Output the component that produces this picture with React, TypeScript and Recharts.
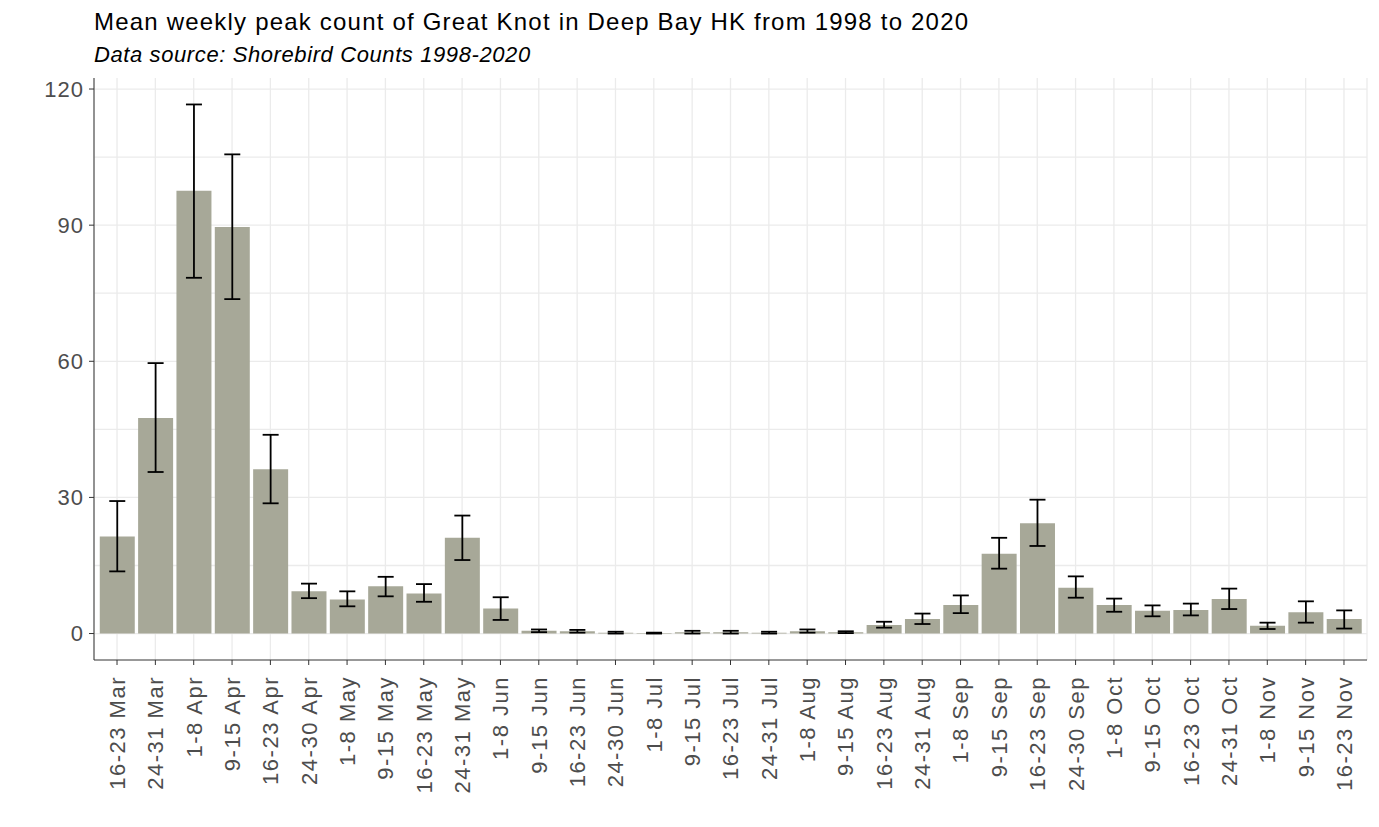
import {
  ComposedChart,
  Bar,
  ErrorBar,
  XAxis,
  YAxis,
  CartesianGrid,
} from "recharts"

const weeks = [
  "16-23 Mar", "24-31 Mar", "1-8 Apr", "9-15 Apr", "16-23 Apr", "24-30 Apr",
  "1-8 May", "9-15 May", "16-23 May", "24-31 May", "1-8 Jun", "9-15 Jun",
  "16-23 Jun", "24-30 Jun", "1-8 Jul", "9-15 Jul", "16-23 Jul", "24-31 Jul",
  "1-8 Aug", "9-15 Aug", "16-23 Aug", "24-31 Aug", "1-8 Sep", "9-15 Sep",
  "16-23 Sep", "24-30 Sep", "1-8 Oct", "9-15 Oct", "16-23 Oct", "24-31 Oct",
  "1-8 Nov", "9-15 Nov", "16-23 Nov",
]

const meanCount = [
  21.4, 47.5, 97.6, 89.6, 36.2, 9.3, 7.5, 10.4, 8.8, 21.1, 5.5, 0.6,
  0.5, 0.2, 0.1, 0.3, 0.3, 0.2, 0.5, 0.3, 1.9, 3.2, 6.3, 17.6,
  24.3, 10.1, 6.3, 5.0, 5.2, 7.6, 1.7, 4.7, 3.2,
]

const lowerCount = [
  13.7, 35.6, 78.4, 73.7, 28.7, 7.8, 6.0, 8.2, 7.0, 16.2, 3.0, 0.3,
  0.2, 0.0, 0.0, 0.0, 0.0, 0.0, 0.2, 0.1, 1.3, 2.1, 4.5, 14.3,
  19.3, 7.9, 4.8, 3.8, 4.0, 5.4, 1.0, 2.4, 1.1,
]

const upperCount = [
  29.2, 59.6, 116.6, 105.6, 43.8, 11.0, 9.3, 12.5, 10.9, 26.0, 8.0, 0.9,
  0.8, 0.4, 0.2, 0.6, 0.6, 0.4, 0.9, 0.5, 2.6, 4.4, 8.4, 21.1,
  29.5, 12.6, 7.7, 6.2, 6.6, 9.9, 2.4, 7.1, 5.1,
]

const yTicks = [0, 30, 60, 90, 120]
const gridValues = [0, 15, 30, 45, 60, 75, 90, 105, 120]

const data = weeks.map((week, i) => ({
  week,
  mean: meanCount[i],
  err: [meanCount[i] - lowerCount[i], upperCount[i] - meanCount[i]],
}))

// ggplot-style 5% expansion of the y range
const yMax = Math.max(...upperCount)
const yPad = yMax * 0.05

const FONT = "'Liberation Sans', Arial, sans-serif"

function WeekTick({ x, y, payload }: any) {
  return (
    <g transform={`translate(${x},${y + 9}) rotate(-90)`}>
      <text
        textAnchor="end"
        dy="0.36em"
        fontSize={22}
        letterSpacing={1.5}
        fill="#4d4d4d"
        fontFamily={FONT}
      >
        {payload.value}
      </text>
    </g>
  )
}

export default function App() {
  return (
    <div style={{ position: "absolute", left: 0, top: 0, width: 1379, height: 827, background: "#fff" }}>
      <div
        style={{
          position: "absolute",
          left: 94,
          top: 10,
          fontFamily: FONT,
          fontSize: 24,
          lineHeight: "24px",
          letterSpacing: 1.2,
          color: "#000",
          whiteSpace: "nowrap",
        }}
      >
        Mean weekly peak count of Great Knot in Deep Bay HK from 1998 to 2020
      </div>
      <div
        style={{
          position: "absolute",
          left: 94,
          top: 44,
          fontFamily: FONT,
          fontSize: 22,
          lineHeight: "22px",
          letterSpacing: 0.6,
          fontStyle: "italic",
          color: "#000",
          whiteSpace: "nowrap",
        }}
      >
        Data source: Shorebird Counts 1998-2020
      </div>
      <ComposedChart
        width={1379}
        height={827}
        data={data}
        barCategoryGap="5%"
        margin={{ top: 78, right: 12, bottom: 0, left: 0 }}
      >
        <CartesianGrid stroke="#ebebeb" strokeWidth={1.3} horizontalValues={gridValues} />
        <XAxis
          dataKey="week"
          interval={0}
          height={167}
          padding={{ left: 3.85, right: 3.85 }}
          tick={<WeekTick />}
          tickSize={5}
          tickLine={{ stroke: "#333333" }}
          axisLine={{ stroke: "#333333" }}
        />
        <XAxis
          xAxisId="top"
          dataKey="week"
          orientation="top"
          height={0}
          tick={false}
          tickLine={false}
          axisLine={{ stroke: "#333333" }}
        />
        <YAxis
          width={94}
          domain={[-yPad, yMax + yPad]}
          ticks={yTicks}
          allowDataOverflow
          tickSize={5}
          tickMargin={5}
          tickLine={{ stroke: "#333333" }}
          axisLine={{ stroke: "#333333" }}
          tick={{ fontSize: 22, fill: "#4d4d4d", fontFamily: FONT, letterSpacing: 1 }}
        />
        <YAxis
          yAxisId="right"
          orientation="right"
          width={0}
          domain={[-yPad, yMax + yPad]}
          tick={false}
          tickLine={false}
          axisLine={{ stroke: "#333333" }}
        />
        <Bar dataKey="mean" fill="#a7a898" isAnimationActive={false}>
          <ErrorBar dataKey="err" width={8} stroke="#000" strokeWidth={1.8} isAnimationActive={false} />
        </Bar>
      </ComposedChart>
    </div>
  )
}
